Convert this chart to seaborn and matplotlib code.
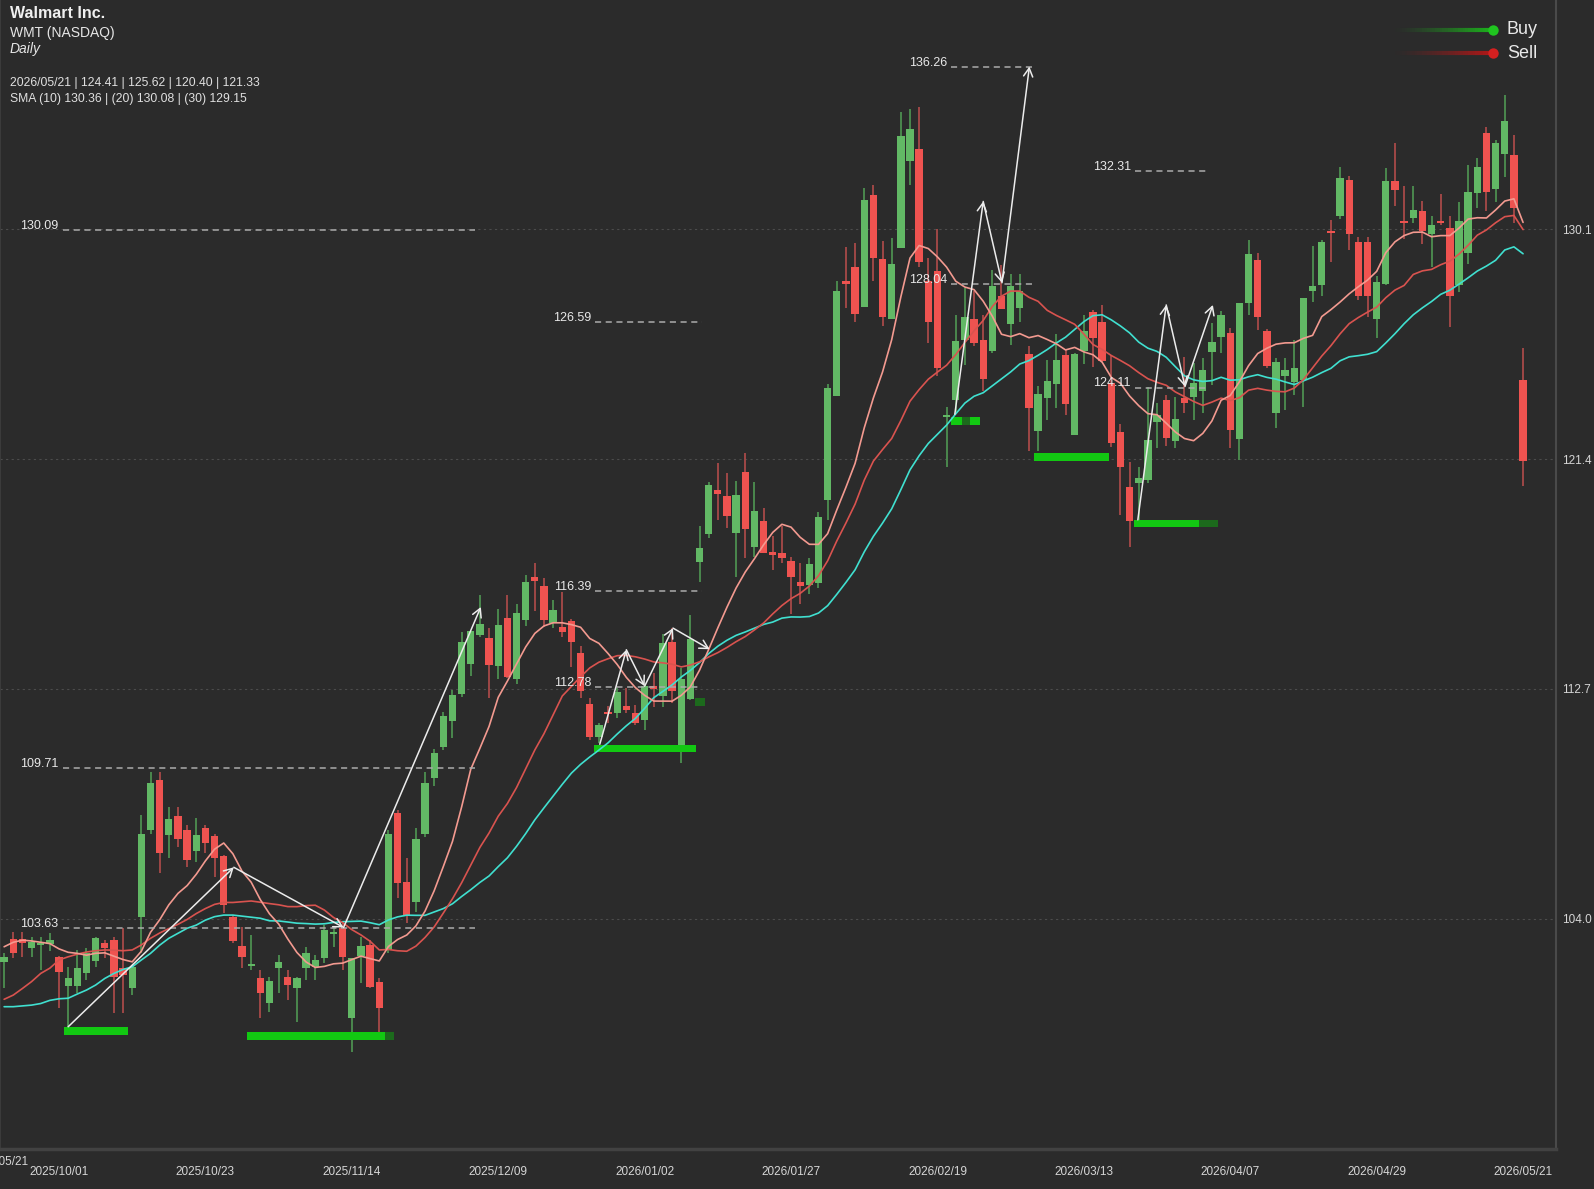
import numpy as np
import pandas as pd
import matplotlib
matplotlib.use("Agg")
import matplotlib.pyplot as plt
from matplotlib.patches import Rectangle
from matplotlib.collections import LineCollection
from matplotlib import font_manager
import seaborn as sns

BG = "#2b2b2b"
sns.set_theme(style="dark", rc={"axes.facecolor": BG, "figure.facecolor": BG,
                                "savefig.facecolor": BG, "text.color": "#e2e2e2",
                                "xtick.color": "#d6d6d6", "ytick.color": "#d6d6d6"})
plt.rcParams["font.family"] = ["Liberation Sans", "DejaVu Sans"]
installed = {f.name for f in font_manager.fontManager.ttflist}
narrow = "Liberation Sans Narrow" if "Liberation Sans Narrow" in installed else "Liberation Sans"

# --- daily bars, WMT ---
opens = [102.36, 103.21, 103.21, 102.87, 102.99, 103.04, 102.55, 101.44, 101.44, 101.92,
         102.39, 103.06, 103.18, 102.11, 101.35, 104.07, 107.35, 109.24, 107.16, 107.88,
         107.35, 106.56, 107.42, 107.14, 106.37, 104.07, 102.96, 102.20, 101.73, 100.79,
         102.11, 101.77, 101.35, 102.11, 102.17, 102.49, 103.41, 103.63, 100.22, 102.58,
         103.00, 101.61, 102.81, 108.01, 105.40, 104.64, 107.20, 109.31, 110.51, 111.48,
         112.50, 113.63, 114.74, 114.61, 113.56, 115.40, 113.06, 115.29, 116.95, 116.60,
         115.21, 115.03, 115.27, 114.05, 112.13, 110.89, 111.80, 111.77, 112.06, 111.77,
         111.52, 112.82, 112.41, 114.48, 110.58, 112.33, 117.50, 118.57, 120.24, 120.01,
         118.62, 120.93, 118.09, 119.04, 117.88, 117.84, 117.55, 116.76, 116.64, 116.70,
         119.87, 123.78, 128.15, 128.67, 127.17, 131.41, 128.97, 126.71, 129.39, 132.71,
         133.13, 128.15, 128.54, 123.00, 123.65, 125.93, 126.69, 125.93, 125.48, 127.56,
         126.52, 127.13, 125.39, 122.48, 123.72, 124.24, 125.35, 122.31, 125.48, 126.98,
         126.60, 124.28, 122.44, 120.36, 120.49, 120.61, 122.82, 123.64, 122.07, 123.71,
         123.75, 123.99, 125.47, 126.02, 126.17, 122.15, 127.31, 128.95, 126.27, 123.14,
         124.53, 124.34, 124.40, 127.75, 128.00, 130.02, 130.59, 131.98, 129.64, 129.64,
         126.70, 128.04, 131.95, 130.40, 130.52, 130.81, 129.93, 130.43, 130.14, 128.00,
         129.19, 131.47, 133.76, 131.62, 132.96, 132.92, 124.41]
highs = [102.68, 103.50, 103.50, 103.31, 103.31, 103.46, 102.58, 102.17, 102.81, 102.87,
         103.31, 103.18, 103.31, 103.63, 102.24, 107.92, 109.56, 109.56, 108.24, 108.24,
         107.54, 107.79, 107.54, 107.19, 106.40, 104.13, 103.69, 103.38, 102.05, 101.80,
         102.62, 102.05, 101.77, 102.93, 102.62, 103.75, 103.63, 103.88, 102.49, 103.31,
         103.18, 101.73, 107.35, 108.11, 106.28, 107.42, 109.56, 110.41, 111.84, 112.66,
         114.87, 114.90, 116.25, 115.00, 115.71, 116.25, 115.91, 117.01, 117.46, 116.89,
         116.07, 116.38, 115.34, 114.33, 112.35, 111.40, 112.06, 112.72, 112.72, 112.09,
         112.85, 113.30, 114.78, 115.00, 113.48, 115.50, 118.85, 120.55, 121.25, 120.89,
         120.59, 121.63, 120.52, 119.54, 118.47, 118.85, 117.71, 117.46, 117.65, 119.41,
         124.24, 128.15, 129.45, 129.58, 131.67, 131.80, 129.65, 129.78, 134.54, 134.67,
         134.74, 129.00, 130.13, 123.39, 126.85, 127.89, 127.76, 126.85, 128.57, 128.74,
         128.41, 128.41, 125.70, 124.17, 125.15, 126.13, 125.54, 125.41, 126.85, 127.04,
         127.24, 125.35, 122.73, 121.31, 121.12, 124.15, 123.52, 123.83, 123.77, 125.26,
         125.03, 125.22, 126.55, 127.02, 126.36, 127.33, 129.70, 129.20, 126.32, 125.22,
         125.22, 125.92, 127.50, 129.48, 129.70, 130.46, 132.46, 132.13, 129.83, 129.83,
         128.32, 132.42, 133.36, 131.74, 131.74, 131.19, 130.61, 131.44, 130.61, 131.15,
         132.54, 132.79, 133.97, 133.49, 135.19, 133.68, 125.62]
lows = [101.36, 102.49, 102.55, 102.55, 102.05, 102.78, 100.60, 99.90, 101.17, 101.67,
        102.17, 102.49, 100.41, 100.41, 101.10, 102.68, 107.22, 105.71, 106.28, 106.72,
        105.96, 106.15, 106.47, 105.59, 104.20, 103.06, 102.11, 102.05, 100.22, 100.47,
        101.17, 100.91, 100.09, 101.67, 101.67, 102.33, 102.93, 102.05, 98.96, 101.55,
        101.35, 99.71, 102.68, 104.76, 103.82, 104.26, 107.10, 109.02, 110.38, 110.83,
        112.38, 113.19, 114.68, 112.34, 113.06, 113.10, 112.88, 115.08, 115.66, 115.06,
        114.99, 114.68, 113.54, 112.34, 110.76, 110.64, 111.40, 111.59, 111.80, 111.33,
        111.14, 112.00, 112.03, 112.15, 109.88, 112.28, 116.76, 118.40, 119.10, 118.79,
        116.95, 117.65, 117.71, 117.84, 117.21, 117.46, 115.54, 115.92, 116.30, 116.50,
        119.09, 123.78, 127.11, 126.58, 127.17, 128.15, 126.45, 126.71, 129.39, 131.80,
        128.67, 125.80, 124.56, 121.11, 123.19, 124.95, 125.67, 123.98, 125.41, 127.08,
        125.74, 126.58, 121.69, 121.69, 122.87, 123.32, 123.06, 122.31, 125.02, 124.89,
        125.08, 121.85, 119.29, 118.06, 119.10, 120.50, 121.81, 121.88, 121.81, 123.16,
        122.89, 123.14, 124.21, 125.41, 121.81, 121.37, 126.86, 126.30, 124.84, 122.57,
        123.27, 123.83, 123.39, 127.37, 127.56, 128.88, 130.49, 129.33, 127.43, 126.80,
        125.98, 128.00, 130.99, 129.72, 130.33, 129.55, 128.69, 130.27, 126.39, 127.74,
        128.79, 130.90, 130.81, 131.15, 132.07, 130.36, 120.40]
closes = [102.55, 102.68, 103.06, 103.12, 103.03, 103.19, 101.96, 101.73, 102.11, 102.68,
          103.25, 102.87, 101.77, 101.86, 102.17, 107.22, 109.12, 106.47, 107.77, 107.01,
          106.21, 107.16, 106.85, 106.28, 104.51, 103.15, 102.53, 102.28, 101.17, 101.65,
          102.36, 101.48, 101.73, 102.68, 102.43, 103.56, 103.50, 102.55, 102.49, 102.97,
          101.42, 100.60, 107.19, 105.33, 104.13, 107.01, 109.12, 110.26, 111.67, 112.47,
          114.49, 114.89, 115.14, 113.60, 115.12, 113.16, 115.59, 116.73, 116.80, 115.30,
          115.69, 114.87, 114.46, 112.60, 110.87, 111.33, 111.74, 112.57, 111.90, 111.40,
          112.79, 112.70, 114.43, 112.60, 113.07, 114.57, 118.03, 120.43, 120.07, 119.25,
          120.05, 118.76, 119.44, 117.86, 117.78, 117.65, 116.95, 116.58, 117.42, 119.22,
          124.11, 127.76, 128.02, 126.91, 131.21, 129.00, 126.78, 128.80, 133.65, 133.91,
          128.87, 126.61, 124.86, 123.04, 125.87, 126.78, 125.80, 124.43, 127.96, 127.08,
          127.96, 127.76, 123.32, 123.85, 124.37, 125.15, 123.48, 125.39, 126.26, 126.00,
          125.12, 122.01, 121.09, 119.04, 120.70, 122.13, 123.08, 122.19, 122.92, 123.52,
          124.30, 124.78, 125.83, 126.84, 122.51, 127.33, 129.17, 126.80, 124.91, 125.07,
          124.78, 124.84, 127.50, 127.97, 129.62, 129.96, 132.04, 129.93, 127.58, 127.58,
          128.09, 131.94, 131.59, 130.36, 130.84, 130.05, 130.27, 130.36, 127.58, 130.43,
          131.50, 132.45, 131.50, 133.39, 134.22, 130.90, 121.33]

# SMA values for the first bars (history before the window)
sma10_head = [102.93, 103.10, 103.18, 103.15, 103.10, 103.05, 102.85, 102.72, 102.68]
sma20_head = [100.94, 101.10, 101.35, 101.61, 101.92, 102.12, 102.43, 102.55, 102.65, 102.73,
              102.78, 102.81, 102.80, 102.78, 102.81, 103.00, 103.25, 103.45, 103.62]
sma30_head = [100.66, 100.66, 100.69, 100.72, 100.78, 100.90, 100.96, 100.98, 101.14, 101.29,
              101.48, 101.73, 101.92, 102.07, 102.17, 102.43, 102.68, 102.99, 103.25, 103.44,
              103.63, 103.75, 103.94, 104.07, 104.13, 104.13, 104.09, 104.05, 104.01]

tick_bars = [6, 22, 38, 54, 70, 86, 102, 118, 134, 150, 166]
tick_labels = ["2025/10/01", "2025/10/23", "2025/11/14", "2025/12/09", "2026/01/02",
               "2026/01/27", "2026/02/19", "2026/03/13", "2026/04/07", "2026/04/29",
               "2026/05/21"]
price_ticks = [104.0, 112.7, 121.4, 130.1]

# projection levels: (values, start bar, end bar)
level_groups = [([130.09, 109.71, 103.63], 6.4, 51.5),
                ([126.59, 116.39, 112.78], 64.6, 76.3),
                ([136.26, 128.04], 103.5, 112.3),
                ([132.31, 124.11], 123.6, 131.5)]
# zigzag wave paths (bar, price)
zigzags = [[(7, 99.90), (25.1, 105.94), (37.1, 103.66), (52.1, 115.8)],
           [(65.1, 110.6), (68.0, 114.18), (70.0, 112.8), (73.1, 115.0), (77.1, 114.2)],
           [(103.9, 123.1), (107.0, 131.16), (109.05, 128.08), (112.05, 136.27)],
           [(123.9, 119.1), (127.0, 127.24), (129.05, 124.15), (132.1, 127.24)]]
# buy zones: (start bar, end bar, price, shade)
buy_bars = [(6.5, 13.5, 99.74, "bright"), (26.5, 41.6, 99.55, "bright"), (41.6, 42.6, 99.55, "dark"),
            (64.5, 75.6, 110.43, "bright"), (75.5, 76.6, 112.2, "dark"),
            (103.5, 106.7, 122.85, "bright"), (104.7, 105.6, 122.85, "dark"),
            (112.6, 120.7, 121.48, "bright"),
            (123.5, 130.6, 118.96, "bright"), (130.6, 132.7, 118.96, "dark")]

df = pd.DataFrame({"open": opens, "high": highs, "low": lows, "close": closes})
df["bar"] = np.arange(len(df))


def sma(n, head):
    s = df["close"].rolling(n).mean()
    s.iloc[:len(head)] = head
    return s


df["sma10"] = sma(10, sma10_head)
df["sma20"] = sma(20, sma20_head)
df["sma30"] = sma(30, sma30_head)

fig = plt.figure(figsize=(15.94, 11.89), dpi=100)
ax = fig.add_axes([0, 40 / 1189, 1556 / 1594, 1149 / 1189])
ax.set_xlim(-0.45, 169.6)
ax.set_ylim(95.27, 138.79)

for v in price_ticks:
    ax.axhline(v, color="#4c4c4c", lw=0.8, ls=(0, (2, 3)), zorder=0)

# candles
up = df["close"] >= df["open"]
body_col = np.where(up, "#62b865", "#ef5350")
wick_col = np.where(up, "#4d8f50", "#a84a48")
ax.vlines(df["bar"], df["low"], df["high"], colors=wick_col, lw=1.3, zorder=2)
ax.bar(df["bar"], np.maximum((df["close"] - df["open"]).abs(), 0.07),
       bottom=np.minimum(df["open"], df["close"]), width=0.8,
       color=body_col, linewidth=0, zorder=3)

# buy zones
for x0, x1, p, shade in buy_bars:
    ax.add_patch(Rectangle((x0, p - 0.14), x1 - x0, 0.28, lw=0,
                           color="#12c812" if shade == "bright" else "#1c6a1c", zorder=3.5))

# moving averages
sns.lineplot(data=df, x="bar", y="sma30", ax=ax, color="#40e0d0", lw=1.2, zorder=4)
sns.lineplot(data=df, x="bar", y="sma20", ax=ax, color="#d9534f", lw=1.2, zorder=4)
sns.lineplot(data=df, x="bar", y="sma10", ax=ax, color="#f39a90", lw=1.2, zorder=4)

# projection levels
for values, x0, x1 in level_groups:
    ax.hlines(values, x0, x1, colors="#ababab", lw=1.1, linestyles=(0, (4, 3)), zorder=5)
    for v in values:
        ax.annotate(f"{v:.2f}", (x0 - 0.45, v), xytext=(0, 3), textcoords="offset points",
                    ha="right", va="center", fontsize=9, color="#e8e8e8", zorder=7)

# zigzag waves
for path in zigzags:
    for a, b in zip(path[:-1], path[1:]):
        ax.annotate("", xy=b, xytext=a, zorder=6,
                    arrowprops=dict(arrowstyle="->,head_length=0.55,head_width=0.3",
                                    color="#ececec", lw=1.1, shrinkA=0, shrinkB=0,
                                    mutation_scale=11))

date_size = 10.2 if narrow != "Liberation Sans" else 8.5
ax.set_xticks(tick_bars)
ax.set_xticklabels(tick_labels, fontfamily=narrow, fontsize=date_size)
ax.tick_params(axis="x", length=0, pad=12)
ax.yaxis.tick_right()
ax.set_yticks(price_ticks)
ax.set_yticklabels([f"{v:.1f}" for v in price_ticks], fontsize=8.5)
ax.tick_params(axis="y", length=0, pad=4)
ax.set_xlabel("")
ax.set_ylabel("")
ax.spines["top"].set_visible(False)
ax.spines["left"].set_visible(True)
ax.spines["left"].set_color("#3e3e3e")
ax.spines["right"].set_visible(True)
ax.spines["right"].set_color("#4a4a4a")
ax.spines["right"].set_linewidth(1.5)
ax.spines["bottom"].set_visible(True)
ax.spines["bottom"].set_color("#424242")
ax.spines["bottom"].set_linewidth(2.5)

# overlay in pixel coordinates for header and legend
ov = fig.add_axes([0, 0, 1, 1], facecolor="none")
ov.set_xlim(0, 1594)
ov.set_ylim(1189, 0)
ov.axis("off")

ov.text(10, 14, "Walmart Inc.", fontsize=11.5, fontweight="bold", color="#f0f0f0", va="center")
ov.text(10, 32.5, "WMT (NASDAQ)", fontsize=10, color="#e6e6e6", va="center")
ov.text(10, 49, "Daily", fontsize=10, style="italic", color="#e6e6e6", va="center")
last = df.iloc[-1]
ov.text(10, 83, f"2026/05/21 | {last.open:.2f} | {last.high:.2f} | {last.low:.2f} | {last.close:.2f}",
        fontsize=8.7, color="#e0e0e0", va="center")
ov.text(10, 99, "SMA (10) 130.36 | (20) 130.08 | (30) 129.15", fontsize=8.7, color="#e0e0e0", va="center")
# clipped date label at the left edge, as in the source chart
ov.text(28.5, 1162, "2025/05/21", ha="right", va="center", color="#d6d6d6", fontfamily=narrow,
        fontsize=date_size)

for label, y, line_rgb, dot in [("Buy", 30, (0.11, 0.70, 0.11), "#1fc41f"),
                                ("Sell", 53, (0.70, 0.09, 0.09), "#d42020")]:
    xs = np.linspace(1392, 1493, 41)
    segs = [[(xs[i], y), (xs[i + 1], y)] for i in range(40)]
    alphas = np.linspace(0, 1, 40) ** 1.4
    ov.add_collection(LineCollection(segs, colors=[(*line_rgb, a) for a in alphas], linewidths=3))
    ov.plot([1493], [y], "o", ms=7.5, color=dot, mec="none")
    ov.text(1507, y, label, fontsize=13, color="#e8e8e8", va="center")

fig.savefig("out.png", dpi=100, facecolor=BG)
